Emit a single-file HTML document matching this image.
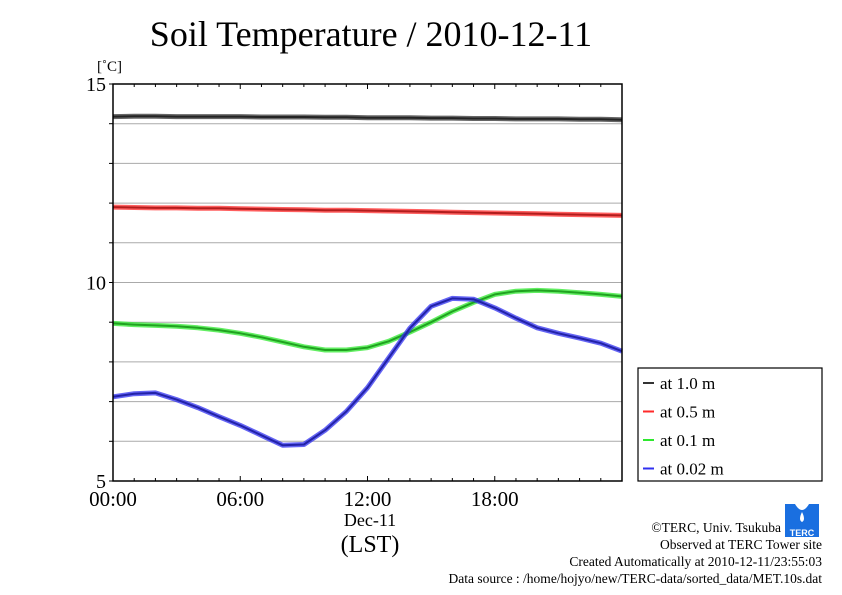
<!DOCTYPE html>
<html><head><meta charset="utf-8"><style>
body{margin:0;background:#fff;}
svg{display:block;font-family:"Liberation Serif",serif;}
</style></head><body>
<svg width="842" height="595">
<text x="371" y="46" font-size="36" text-anchor="middle">Soil Temperature / 2010-12-11</text>
<text x="97" y="71" font-size="15">[˚C]</text>
<g id="grid"></g>
<g id="series"></g>
<rect x="113" y="84" width="509" height="397" fill="none" stroke="#000" stroke-width="1.5"/>
<g id="axes"></g>
<text x="370" y="526" font-size="18" text-anchor="middle">Dec-11</text>
<text x="370" y="552" font-size="24" text-anchor="middle">(LST)</text>
<g>
<rect x="638" y="368" width="184" height="113" fill="#fff" stroke="#000" stroke-width="1.2"/>
<g id="legend"></g>
</g>
<g>
<rect x="785" y="504" width="34" height="33" fill="#1a6fe0"/>
<path d="M795 504 Q802 516 809 504 Z" fill="#fff"/>
<path d="M802 512 Q798 520 802 522 Q806 520 802 512Z" fill="#fff"/>
<text x="802" y="536" font-size="9" fill="#fff" text-anchor="middle" font-family="Liberation Sans,sans-serif" font-weight="bold">TERC</text>
</g>
<g font-size="13.5" text-anchor="end">
<text x="781" y="532">©TERC, Univ. Tsukuba</text>
<text x="822" y="549">Observed at TERC Tower site</text>
<text x="822" y="566">Created Automatically at 2010-12-11/23:55:03</text>
<text x="822" y="583">Data source : /home/hojyo/new/TERC-data/sorted_data/MET.10s.dat</text>
</g>
</svg>
<script>
const hours=[0,1,2,3,4,5,6,7,8,9,10,11,12,13,14,15,16,17,18,19,20,21,22,23,24];
const d100=[14.18,14.19,14.19,14.18,14.18,14.18,14.18,14.17,14.17,14.17,14.16,14.16,14.15,14.15,14.15,14.14,14.14,14.13,14.13,14.12,14.12,14.12,14.11,14.11,14.1];
const d050=[11.9,11.89,11.88,11.88,11.87,11.87,11.86,11.85,11.84,11.83,11.82,11.82,11.81,11.8,11.79,11.78,11.77,11.76,11.75,11.74,11.73,11.72,11.71,11.7,11.69];
const d010=[8.97,8.94,8.92,8.9,8.86,8.8,8.72,8.62,8.5,8.38,8.3,8.3,8.36,8.52,8.75,9.0,9.27,9.5,9.7,9.78,9.8,9.78,9.74,9.7,9.65];
const d002=[7.12,7.2,7.22,7.05,6.85,6.62,6.4,6.15,5.9,5.92,6.28,6.75,7.35,8.1,8.85,9.4,9.6,9.58,9.36,9.1,8.86,8.72,8.6,8.47,8.27];
const yTicks=[5,10,15];
const xLabels=["00:00","06:00","12:00","18:00"];
const seriesNames=["at 1.0 m","at 0.5 m","at 0.1 m","at 0.02 m"];
const colors=["#333","#ff2a2a","#2ee82e","#3030f0"];
const X=h=>113+h*509/24, Y=v=>481-(v-5)*39.7;
const NS="http://www.w3.org/2000/svg";
function mk(t,a,p){const e=document.createElementNS(NS,t);for(const k in a)e.setAttribute(k,a[k]);p.appendChild(e);return e;}
const grid=document.getElementById('grid'),axes=document.getElementById('axes'),ser=document.getElementById('series'),leg=document.getElementById('legend');
for(let v=6;v<15;v++){const l=mk('line',{x1:113,x2:622,y1:Y(v),y2:Y(v),stroke:'#aaa','stroke-width':1},grid);

}
for(let h=1;h<24;h++){const big=h%6==0;
mk('line',{x1:X(h),x2:X(h),y1:84,y2:84+(big?5:3),stroke:'#000'},axes);
mk('line',{x1:X(h),x2:X(h),y1:481,y2:481-(big?5:3),stroke:'#000'},axes);}
for(let v=5;v<=15;v++){mk('line',{x1:109,x2:113,y1:Y(v),y2:Y(v),stroke:'#000'},axes);}
yTicks.forEach(v=>{const t=mk('text',{x:106,y:Y(v)+7,'font-size':20,'text-anchor':'end'},axes);t.textContent=v;

});
xLabels.forEach((s,i)=>{const t=mk('text',{x:X(i*6),y:506,'font-size':21,'text-anchor':'middle'},axes);t.textContent=s;

});
[d100,d050,d010,d002].forEach((d,i)=>{
const pts=d.map((v,j)=>X(hours[j]).toFixed(1)+','+Y(v).toFixed(1)).join(' ');
const g=mk('g',{},ser);


mk('polyline',{points:pts,fill:'none',stroke:colors[i],'stroke-width':5,'stroke-opacity':0.75,'stroke-linejoin':'round'},g);
mk('polyline',{points:pts,fill:'none',stroke:colors[i],'stroke-width':2,'stroke-linejoin':'round',filter:'brightness(0.7)'},g);
const y=383+i*28.5;
const e=mk('g',{},leg);


mk('line',{x1:643,x2:654,y1:y,y2:y,stroke:colors[i],'stroke-width':2},e);
const t=mk('text',{x:660,y:y+6,'font-size':17},e);t.textContent=seriesNames[i];});
</script>
</body></html>
